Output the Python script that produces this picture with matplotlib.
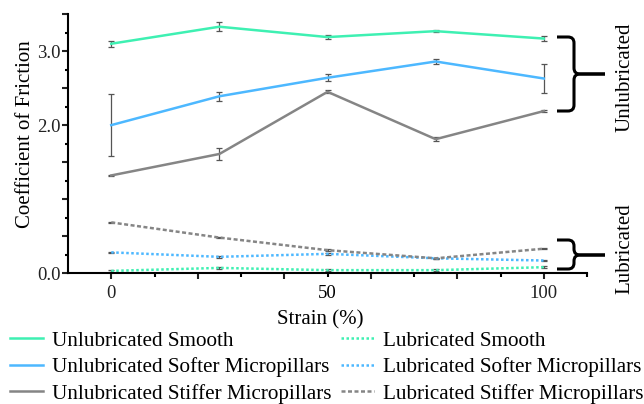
import matplotlib
matplotlib.use("Agg")
import matplotlib.pyplot as plt
from matplotlib.path import Path
from matplotlib.patches import PathPatch

plt.rcParams["font.family"] = ["Liberation Serif", "DejaVu Serif"]

strain = [0, 25, 50, 75, 100]

unlub_smooth = [3.10, 3.33, 3.19, 3.27, 3.17]
unlub_smooth_err = [0.04, 0.06, 0.03, 0.01, 0.03]
unlub_softer = [2.00, 2.39, 2.64, 2.86, 2.63]
unlub_softer_err = [0.42, 0.06, 0.05, 0.04, 0.19]
unlub_stiffer = [1.32, 1.61, 2.45, 1.81, 2.19]
unlub_stiffer_err = [0.01, 0.085, 0.02, 0.03, 0.01]

lub_smooth = [0.03, 0.07, 0.04, 0.04, 0.08]
lub_softer = [0.28, 0.22, 0.26, 0.20, 0.17]
lub_stiffer = [0.685, 0.48, 0.31, 0.20, 0.33]
lub_err = [0.01, 0.01, 0.01, 0.01, 0.01]

green = "#3ef0b2"
blue = "#4db8ff"
gray = "#858585"

fig = plt.figure(figsize=(6.44, 4.04), dpi=100)
ax = fig.add_axes([0.1056, 0.324, 0.806, 0.641])

ekw = dict(ecolor="#555555", elinewidth=0.9, capsize=2.5, capthick=0.9)
h1 = ax.errorbar(strain, unlub_smooth, yerr=unlub_smooth_err, color=green, lw=1.8, **ekw)
h2 = ax.errorbar(strain, unlub_softer, yerr=unlub_softer_err, color=blue, lw=1.8, **ekw)
h3 = ax.errorbar(strain, unlub_stiffer, yerr=unlub_stiffer_err, color=gray, lw=1.8, **ekw)
h4 = ax.errorbar(strain, lub_smooth, yerr=lub_err, color=green, lw=1.8, ls=(0, (1, 1)), **ekw)
h5 = ax.errorbar(strain, lub_softer, yerr=lub_err, color=blue, lw=1.8, ls=(0, (1, 1)), **ekw)
h6 = ax.errorbar(strain, lub_stiffer, yerr=lub_err, color=gray, lw=1.8, ls=(0, (1.6, 1)), **ekw)

ax.set_xlim(-10, 110)
ax.set_ylim(0, 3.5)
for s in ["top", "right"]:
    ax.spines[s].set_visible(False)
for s in ["left", "bottom"]:
    ax.spines[s].set_linewidth(1.5)

ax.set_xticks([0, 20, 40, 60, 80, 100], ["0", "", "", "", "", "100"])
ax.set_xticks([10, 30, 50, 70, 90, 110], ["", "", "50", "", "", ""], minor=True)
ax.set_yticks([0, 0.5, 1.0, 1.5, 2.0, 2.5, 3.0, 3.5],
              ["0.0", "", "", "", "2.0", "", "3.0", ""])
ax.set_yticks([0.25, 0.75, 1.25, 1.75, 2.25, 2.75, 3.25], minor=True)
ax.tick_params(which="major", length=4.5, width=1.5, labelsize=13.5, colors="#222222")
ax.tick_params(axis="x", which="major", pad=4, labelsize=13.5)
ax.tick_params(axis="x", which="minor", length=3, width=1.5, pad=5.5, labelsize=13.5)
ax.tick_params(axis="y", which="minor", length=2.5, width=1.5)
ax.tick_params(axis="y", which="major", pad=1)

ax.set_ylabel("Coefficient of Friction", fontsize=15)
ax.yaxis.set_label_coords(-0.064, 0.537)
ax.set_xlabel("Strain (%)", fontsize=15)
ax.xaxis.set_label_coords(0.486, -0.145)


def brace(y_top, y_bot, y_mid):
    # curly brace in figure pixels (origin top-left)
    xa, xv, xt, r = 557, 574, 605, 6
    W, H = 644, 404
    def p(x, y):
        return (x / W, 1 - y / H)
    for ye, sgn in [(y_top, 1), (y_bot, -1)]:
        verts = [p(xa, ye), p(xv - r, ye), p(xv, ye), p(xv, ye + sgn * r),
                 p(xv, y_mid - sgn * r), p(xv, y_mid), p(xv + r, y_mid), p(xt, y_mid)]
        codes = [Path.MOVETO, Path.LINETO, Path.CURVE3, Path.CURVE3,
                 Path.LINETO, Path.CURVE3, Path.CURVE3, Path.LINETO]
        fig.add_artist(PathPatch(Path(verts, codes), fill=False, lw=2.2,
                                 ec="black", transform=fig.transFigure))


brace(37, 111, 74)
brace(240, 269, 255)
fig.text(625 / 644, 1 - 77 / 404, "Unlubricated", rotation=90, fontsize=15,
         ha="center", va="center")
fig.text(625 / 644, 1 - 249 / 404, "Lubricated", rotation=90, fontsize=15,
         ha="center", va="center")

handles = [h1, h2, h3, h4, h5, h6]
labels = ["Unlubricated Smooth", "Unlubricated Softer Micropillars",
          "Unlubricated Stiffer Micropillars", "Lubricated Smooth",
          "Lubricated Softer Micropillars", "Lubricated Stiffer Micropillars"]
fig.legend([h.lines[0] for h in handles], labels, ncol=2, frameon=False,
           loc="upper left", bbox_to_anchor=(10 / 644, 1 - 331 / 404),
           fontsize=15.2, handlelength=1.56, handletextpad=0.43,
           columnspacing=0.43, labelspacing=0.31, borderpad=0, borderaxespad=0)

fig.savefig("out.png", dpi=100)
